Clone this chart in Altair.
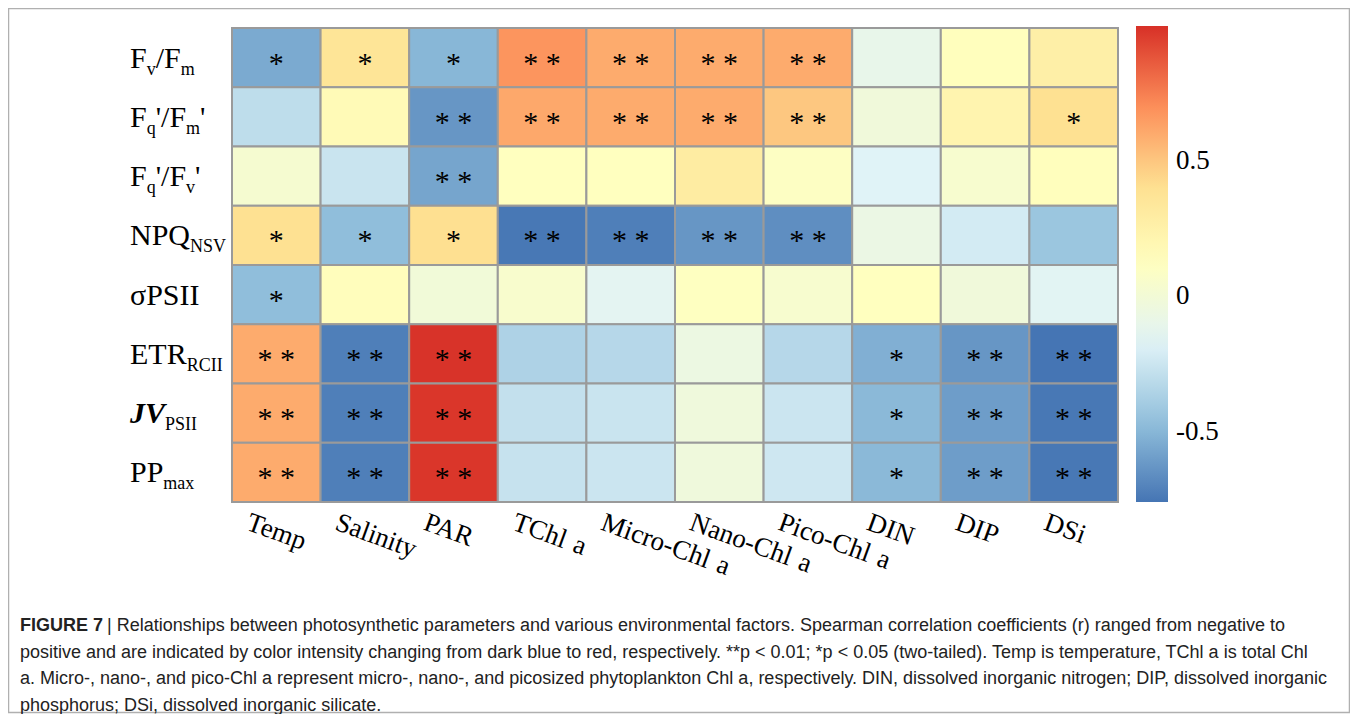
import altair as alt
import pandas as pd

# ---------------- data ----------------
rows = ["Fv/Fm", "Fq'/Fm'", "Fq'/Fv'", "NPQNSV", "σPSII", "ETRRCII", "JVPSII", "PPmax"]
cols = ["Temp", "Salinity", "PAR", "TChl\u2004a", "Micro-Chl\u2004a", "Nano-Chl\u2004a",
        "Pico-Chl\u2004a", "DIN", "DIP", "DSi"]

r_fvfm   = [-0.55, 0.37, -0.50, 0.68, 0.60, 0.60, 0.60, -0.10, 0.13, 0.27]
r_fqfm   = [-0.30, 0.17, -0.63, 0.61, 0.60, 0.60, 0.50, -0.02, 0.22, 0.40]
r_fqfv   = [0.03, -0.26, -0.57, 0.12, 0.12, 0.30, 0.10, -0.17, 0.04, 0.13]
r_npq    = [0.40, -0.47, 0.41, -0.75, -0.72, -0.63, -0.66, -0.07, -0.22, -0.43]
r_sigma  = [-0.47, 0.14, -0.01, 0.05, -0.14, 0.11, 0.04, 0.12, -0.02, -0.15]
r_etr    = [0.60, -0.72, 0.99, -0.36, -0.33, -0.06, -0.33, -0.53, -0.63, -0.76]
r_jv     = [0.60, -0.72, 0.98, -0.28, -0.26, -0.03, -0.25, -0.49, -0.60, -0.75]
r_pp     = [0.60, -0.72, 0.98, -0.27, -0.25, -0.03, -0.24, -0.49, -0.60, -0.75]

s_fvfm   = ["*", "*", "*", "**", "**", "**", "**", "", "", ""]
s_fqfm   = ["", "", "**", "**", "**", "**", "**", "", "", "*"]
s_fqfv   = ["", "", "**", "", "", "", "", "", "", ""]
s_npq    = ["*", "*", "*", "**", "**", "**", "**", "", "", ""]
s_sigma  = ["*", "", "", "", "", "", "", "", "", ""]
s_etr    = ["**", "**", "**", "", "", "", "", "*", "**", "**"]
s_jv     = ["**", "**", "**", "", "", "", "", "*", "**", "**"]
s_pp     = ["**", "**", "**", "", "", "", "", "*", "**", "**"]

r_all = [r_fvfm, r_fqfm, r_fqfv, r_npq, r_sigma, r_etr, r_jv, r_pp]
s_all = [s_fvfm, s_fqfm, s_fqfv, s_npq, s_sigma, s_etr, s_jv, s_pp]

# row tick labels as (text, style) pieces: m = main, s = subscript, b = bold italic
row_label_parts = [
    [("F", "m"), ("v", "s"), ("/F", "m"), ("m", "s")],
    [("F", "m"), ("q", "s"), ("'/F", "m"), ("m", "s"), ("'", "m")],
    [("F", "m"), ("q", "s"), ("'/F", "m"), ("v", "s"), ("'", "m")],
    [("NPQ", "m"), ("NSV", "s")],
    [("σPSII", "m")],
    [("ETR", "m"), ("RCII", "s")],
    [("JV", "b"), ("PSII", "s")],
    [("PP", "m"), ("max", "s")],
]

legend_values = [-0.5, 0, 0.5]
palette = ["#4575B4", "#91BFDB", "#E0F3F8", "#FFFFBF", "#FEE090", "#FC8D59", "#D73027"]
r_min, r_max = -0.76, 1.0

caption_bold = "FIGURE 7"
caption_lines = [
    "| Relationships between photosynthetic parameters and various environmental factors. Spearman correlation coefficients (r) ranged from negative to",
    "positive and are indicated by color intensity changing from dark blue to red, respectively. **p < 0.01; *p < 0.05 (two-tailed). Temp is temperature, TChl a is total Chl",
    "a. Micro-, nano-, and pico-Chl a represent micro-, nano-, and picosized phytoplankton Chl a, respectively. DIN, dissolved inorganic nitrogen; DIP, dissolved inorganic",
    "phosphorus; DSi, dissolved inorganic silicate.",
]

# ---------------- tables ----------------
recs = []
for i, rname in enumerate(rows):
    for j, cname in enumerate(cols):
        sig = s_all[i][j]
        recs.append({"row": rname, "col": cname, "r": r_all[i][j],
                     "sig": "* *" if sig == "**" else sig})
df = pd.DataFrame(recs)

stops = [r_min + k * (r_max - r_min) / (len(palette) - 1) for k in range(len(palette))]

W, H = 886, 474
SERIF = "Liberation Serif"
MAIN, SUB = 30, 18

xs = alt.X("col:N", sort=cols, scale=alt.Scale(paddingInner=0, paddingOuter=0),
           axis=alt.Axis(title=None, labelAngle=20, labelAlign="left", labelBaseline="top",
                         labelFont=SERIF, labelFontSize=27, labelColor="black",
                         labelPadding=7, labelOffset=-24, ticks=False, domain=False,
                         labelLimit=300))
ys = alt.Y("row:N", sort=rows, scale=alt.Scale(paddingInner=0, paddingOuter=0), axis=None)

heat = alt.Chart(df).mark_rect(stroke="#9a9a9a", strokeWidth=2).encode(
    x=xs, y=ys,
    color=alt.Color("r:Q",
                    scale=alt.Scale(domain=stops, range=palette, interpolate="rgb"),
                    legend=alt.Legend(title=None, orient="none", legendX=904, legendY=-2,
                                      direction="vertical", gradientLength=476,
                                      gradientThickness=32, values=legend_values,
                                      labelExpr="datum.value + ''", labelFont=SERIF,
                                      labelFontSize=27, labelColor="black", labelOffset=8,
                                      gradientStrokeWidth=0, labelOverlap=False, padding=0)),
)

stars = alt.Chart(df).mark_text(font=SERIF, fontSize=30, baseline="alphabetic",
                                dy=15, color="black").encode(x=xs, y=ys, text="sig:N")

# width table (Times metrics, per 1000 em)
adv = {"F": 556, "v": 500, "/": 278, "m": 778, "q": 500, "'": 180, "N": 722, "P": 556,
       "Q": 722, "S": 556, "V": 722, "R": 667, "C": 667, "I": 333, "E": 611, "T": 611,
       "a": 444, "x": 500, "σ": 548, "J": 500}
adv_bi = {"J": 500, "V": 667}

label_layers = []
for rname, parts in zip(rows, row_label_parts):
    off = 0.0
    for txt, kind in parts:
        size = SUB if kind == "s" else MAIN
        table = adv_bi if kind == "b" else adv
        lab_df = pd.DataFrame({"row": [rname], "t": [txt]})
        mk = alt.Chart(lab_df).mark_text(
            font=SERIF, fontSize=size, align="left", baseline="alphabetic",
            dy=(17 if kind == "s" else 10), color="black",
            fontWeight="bold" if kind == "b" else "normal",
            fontStyle="italic" if kind == "b" else "normal",
        ).encode(x=alt.value(-102 + off), y=alt.Y("row:N", sort=rows, axis=None), text="t:N")
        label_layers.append(mk)
        off += sum(table.get(ch, 500) for ch in txt) / 1000 * size

frame = alt.Chart(pd.DataFrame({"k": [0]})).mark_rect(
    fill=None, stroke="#b0b0b0", strokeWidth=1.5
).encode(x=alt.value(-223.5), x2=alt.value(1117.5), y=alt.value(-19.5), y2=alt.value(684.5))

CAP_FONT = "Liberation Sans"
CAP_SIZE = 18
cap_layers = [
    alt.Chart(pd.DataFrame({"t": [caption_bold]})).mark_text(
        font=CAP_FONT, fontSize=CAP_SIZE, fontWeight="bold", align="left", baseline="middle",
        color="#222").encode(x=alt.value(-212), y=alt.value(598), text="t:N")
]
for k, line in enumerate(caption_lines):
    xv = -125 if k == 0 else -212
    cap_layers.append(
        alt.Chart(pd.DataFrame({"t": [line]})).mark_text(
            font=CAP_FONT, fontSize=CAP_SIZE, align="left", baseline="middle", color="#222"
        ).encode(x=alt.value(xv), y=alt.value(598 + 26.5 * k), text="t:N")
    )

chart = alt.layer(heat, stars, *label_layers, frame, *cap_layers).properties(
    width=W, height=H,
    autosize=alt.AutoSizeParams(type="none"),
    padding={"left": 224, "top": 20, "right": 232, "bottom": 212},
).configure_view(stroke=None)

chart.save("out.html", embed_options={"renderer": "svg", "actions": False})
